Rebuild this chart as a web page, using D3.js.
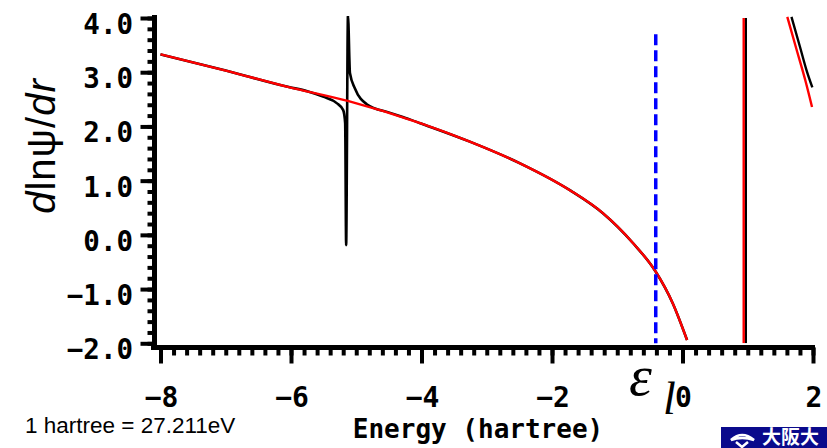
<!DOCTYPE html>
<html>
<head>
<meta charset="utf-8">
<script src="https://cdn.jsdelivr.net/npm/d3@7/dist/d3.min.js"></script>
<style>
  body { margin: 0; background: #fff; }
  svg { display: block; }
</style>
</head>
<body>
<script>
// energy grid and log-derivative values
var redE1 = [-8, -7, -6.05, -5.13, -4.02, -3.26, -2.49, -1.72, -1.22, -0.76, -0.41, -0.15, 0.07];
var redD1 = [3.33, 3.03, 2.73, 2.47, 2.06, 1.72, 1.32, 0.82, 0.40, -0.15, -0.68, -1.26, -1.94];
var redPoleE = [0.938, 0.938];
var redPoleD = [-2.0, 4.0];
var redE3 = [1.606, 1.75, 1.88, 1.985];
var redD3 = [4.02, 3.41, 2.86, 2.36];

var blackE1 = [-8, -7, -6.05, -5.75, -5.51, -5.30, -5.20, -5.17, -5.155, -5.127, -5.096, -5.02, -4.84, -4.48, -4.18, -4.02,
               -3.26, -2.49, -1.72, -1.22, -0.76, -0.41, -0.15, 0.07];
var blackD1 = [3.33, 3.03, 2.73, 2.65, 2.55, 2.43, 2.30, 2.06, -0.19, 4.05, 2.98, 2.70, 2.41, 2.25, 2.13, 2.06,
               1.72, 1.32, 0.82, 0.40, -0.15, -0.68, -1.26, -1.94];
var blackPoleE = [0.97, 0.97];
var blackPoleD = [-2.0, 4.0];
var blackE3 = [1.67, 1.80, 1.90, 1.99];
var blackD3 = [4.02, 3.47, 3.04, 2.72];

var epsL = -0.41;
var epsTop = 3.7;

var xTicks = [-8, -6, -4, -2, 0, 2];
var xTickLabels = ["\u22128", "\u22126", "\u22124", "\u22122", "0", "2"];
var yTicks = [-2, -1, 0, 1, 2, 3, 4];
var yTickLabels = ["\u22122.0", "\u22121.0", "0.0", "1.0", "2.0", "3.0", "4.0"];
var minorStep = 0.2;

var W = 827, H = 448;

var svg = d3.select("body").append("svg")
    .attr("width", W)
    .attr("height", H);

var x = d3.scaleLinear().domain([-8, 2]).range([160.5, 813]);
var y = d3.scaleLinear().domain([-2, 4]).range([343.3, 18]);

var zip = function(a, b) { return a.map(function(v, i) { return [v, b[i]]; }); };

// clip for the curves
svg.append("clipPath").attr("id", "plotclip")
  .append("rect")
    .attr("x", 150).attr("y", y(4) - 2)
    .attr("width", 670).attr("height", y(-2) - y(4) + 2);

var line = d3.line()
    .x(function(d) { return x(d[0]); })
    .y(function(d) { return y(d[1]); })
    .curve(d3.curveMonotoneX);

var straight = d3.line()
    .x(function(d) { return x(d[0]); })
    .y(function(d) { return y(d[1]); });

var plot = svg.append("g").attr("clip-path", "url(#plotclip)");

// black : all-electron
plot.append("path").attr("d", line(zip(blackE1, blackD1)))
    .style("fill", "none").style("stroke", "#000").style("stroke-width", 2.6);
plot.append("path").attr("d", straight(zip(blackPoleE, blackPoleD)))
    .style("fill", "none").style("stroke", "#000").style("stroke-width", 2.4);
plot.append("path").attr("d", line(zip(blackE3, blackD3)))
    .style("fill", "none").style("stroke", "#000").style("stroke-width", 2.4);

// red : pseudo
plot.append("path").attr("d", line(zip(redE1, redD1)))
    .style("fill", "none").style("stroke", "#f00").style("stroke-width", 2.4);
plot.append("path").attr("d", straight(zip(redPoleE, redPoleD)))
    .style("fill", "none").style("stroke", "#f00").style("stroke-width", 2.4);
plot.append("path").attr("d", line(zip(redE3, redD3)))
    .style("fill", "none").style("stroke", "#f00").style("stroke-width", 2.4);

// reference energy
svg.append("line")
    .attr("x1", x(epsL)).attr("x2", x(epsL))
    .attr("y1", y(epsTop)).attr("y2", y(-2))
    .style("stroke", "#0000ff")
    .style("stroke-width", 3.5)
    .style("stroke-dasharray", "11,5");

// axes
var axisY = 347.5, axisX = 154.5;

var yAx = svg.append("g").attr("transform", "translate(" + axisX + ",0)");
yAx.append("g").call(d3.axisLeft(y).tickValues(d3.range(-2, 4.001, minorStep)).tickSize(7).tickFormat(""));
yAx.append("g").call(d3.axisLeft(y).tickValues(yTicks).tickSize(14).tickFormat(""));
yAx.selectAll(".domain").remove();
yAx.selectAll(".tick line").style("stroke", "#000").style("stroke-width", 4);

var xAx = svg.append("g").attr("transform", "translate(0," + axisY + ")");
xAx.append("g").call(d3.axisBottom(x).tickValues(d3.range(-8, 2.001, minorStep)).tickSize(8).tickFormat(""));
xAx.append("g").call(d3.axisBottom(x).tickValues(xTicks).tickSize(16).tickFormat(""));
xAx.selectAll(".domain").remove();
xAx.selectAll(".tick line").style("stroke", "#000").style("stroke-width", 4);

svg.append("line").attr("x1", axisX).attr("x2", axisX).attr("y1", 15).attr("y2", 350)
    .style("stroke", "#000").style("stroke-width", 5);
svg.append("line").attr("x1", 151).attr("x2", 815).attr("y1", axisY).attr("y2", axisY)
    .style("stroke", "#000").style("stroke-width", 5);

var tickFont = "'DejaVu Sans Mono', monospace";

svg.selectAll(".ylab").data(yTicks).enter().append("text")
    .attr("class", "ylab")
    .attr("x", 133)
    .attr("y", function(d) { return y(d) + 16; })
    .attr("text-anchor", "end")
    .style("font-family", tickFont).style("font-weight", "bold").style("font-size", "27.5px")
    .text(function(d, i) { return yTickLabels[i]; });

svg.selectAll(".xlab").data(xTicks).enter().append("text")
    .attr("class", "xlab")
    .attr("x", function(d) { return x(d) + 1; })
    .attr("y", 407)
    .attr("text-anchor", "middle")
    .style("font-family", tickFont).style("font-weight", "bold").style("font-size", "28px")
    .text(function(d, i) { return xTickLabels[i]; });

// epsilon_l label
svg.append("text").attr("x", 629).attr("y", 395)
    .style("font-family", "'Liberation Serif', serif").style("font-style", "italic").style("font-size", "58px")
    .text("\u03b5");
svg.append("text").attr("x", 663).attr("y", 414)
    .style("font-family", "'Liberation Serif', serif").style("font-style", "italic").style("font-size", "46px")
    .text("l");

// axis titles
svg.append("text").attr("x", 478).attr("y", 438)
    .attr("text-anchor", "middle")
    .style("font-family", tickFont).style("font-weight", "bold").style("font-size", "26px")
    .text("Energy (hartree)");

var yt = svg.append("text")
    .attr("transform", "translate(55,146) rotate(-90)")
    .attr("text-anchor", "middle")
    .style("font-family", "'Liberation Sans', Arial, sans-serif")
    .style("font-size", "40px")
    .style("letter-spacing", "1px");
yt.append("tspan").style("font-style", "italic").text("d");
yt.append("tspan").text("ln\u03c8/");
yt.append("tspan").style("font-style", "italic").text("dr");

svg.append("text").attr("x", 25).attr("y", 433)
    .style("font-family", "'Liberation Sans', Arial, sans-serif").style("font-size", "22.5px")
    .text("1 hartree = 27.211eV");

// logo box
svg.append("rect").attr("x", 721).attr("y", 427).attr("width", 106).attr("height", 21)
    .style("fill", "#0a0a8c");
svg.append("path")
    .attr("d", "M731,440 Q742,430 754,440 Q742,436 731,440 Z M736,442 L742,447 L748,442")
    .style("fill", "none").style("stroke", "#fff").style("stroke-width", 2.5);
svg.append("text").attr("x", 762).attr("y", 444)
    .style("font-family", "'Noto Sans CJK JP', sans-serif").style("font-weight", "bold")
    .style("font-size", "19px").style("fill", "#fff")
    .text("大阪大");
</script>
</body>
</html>
